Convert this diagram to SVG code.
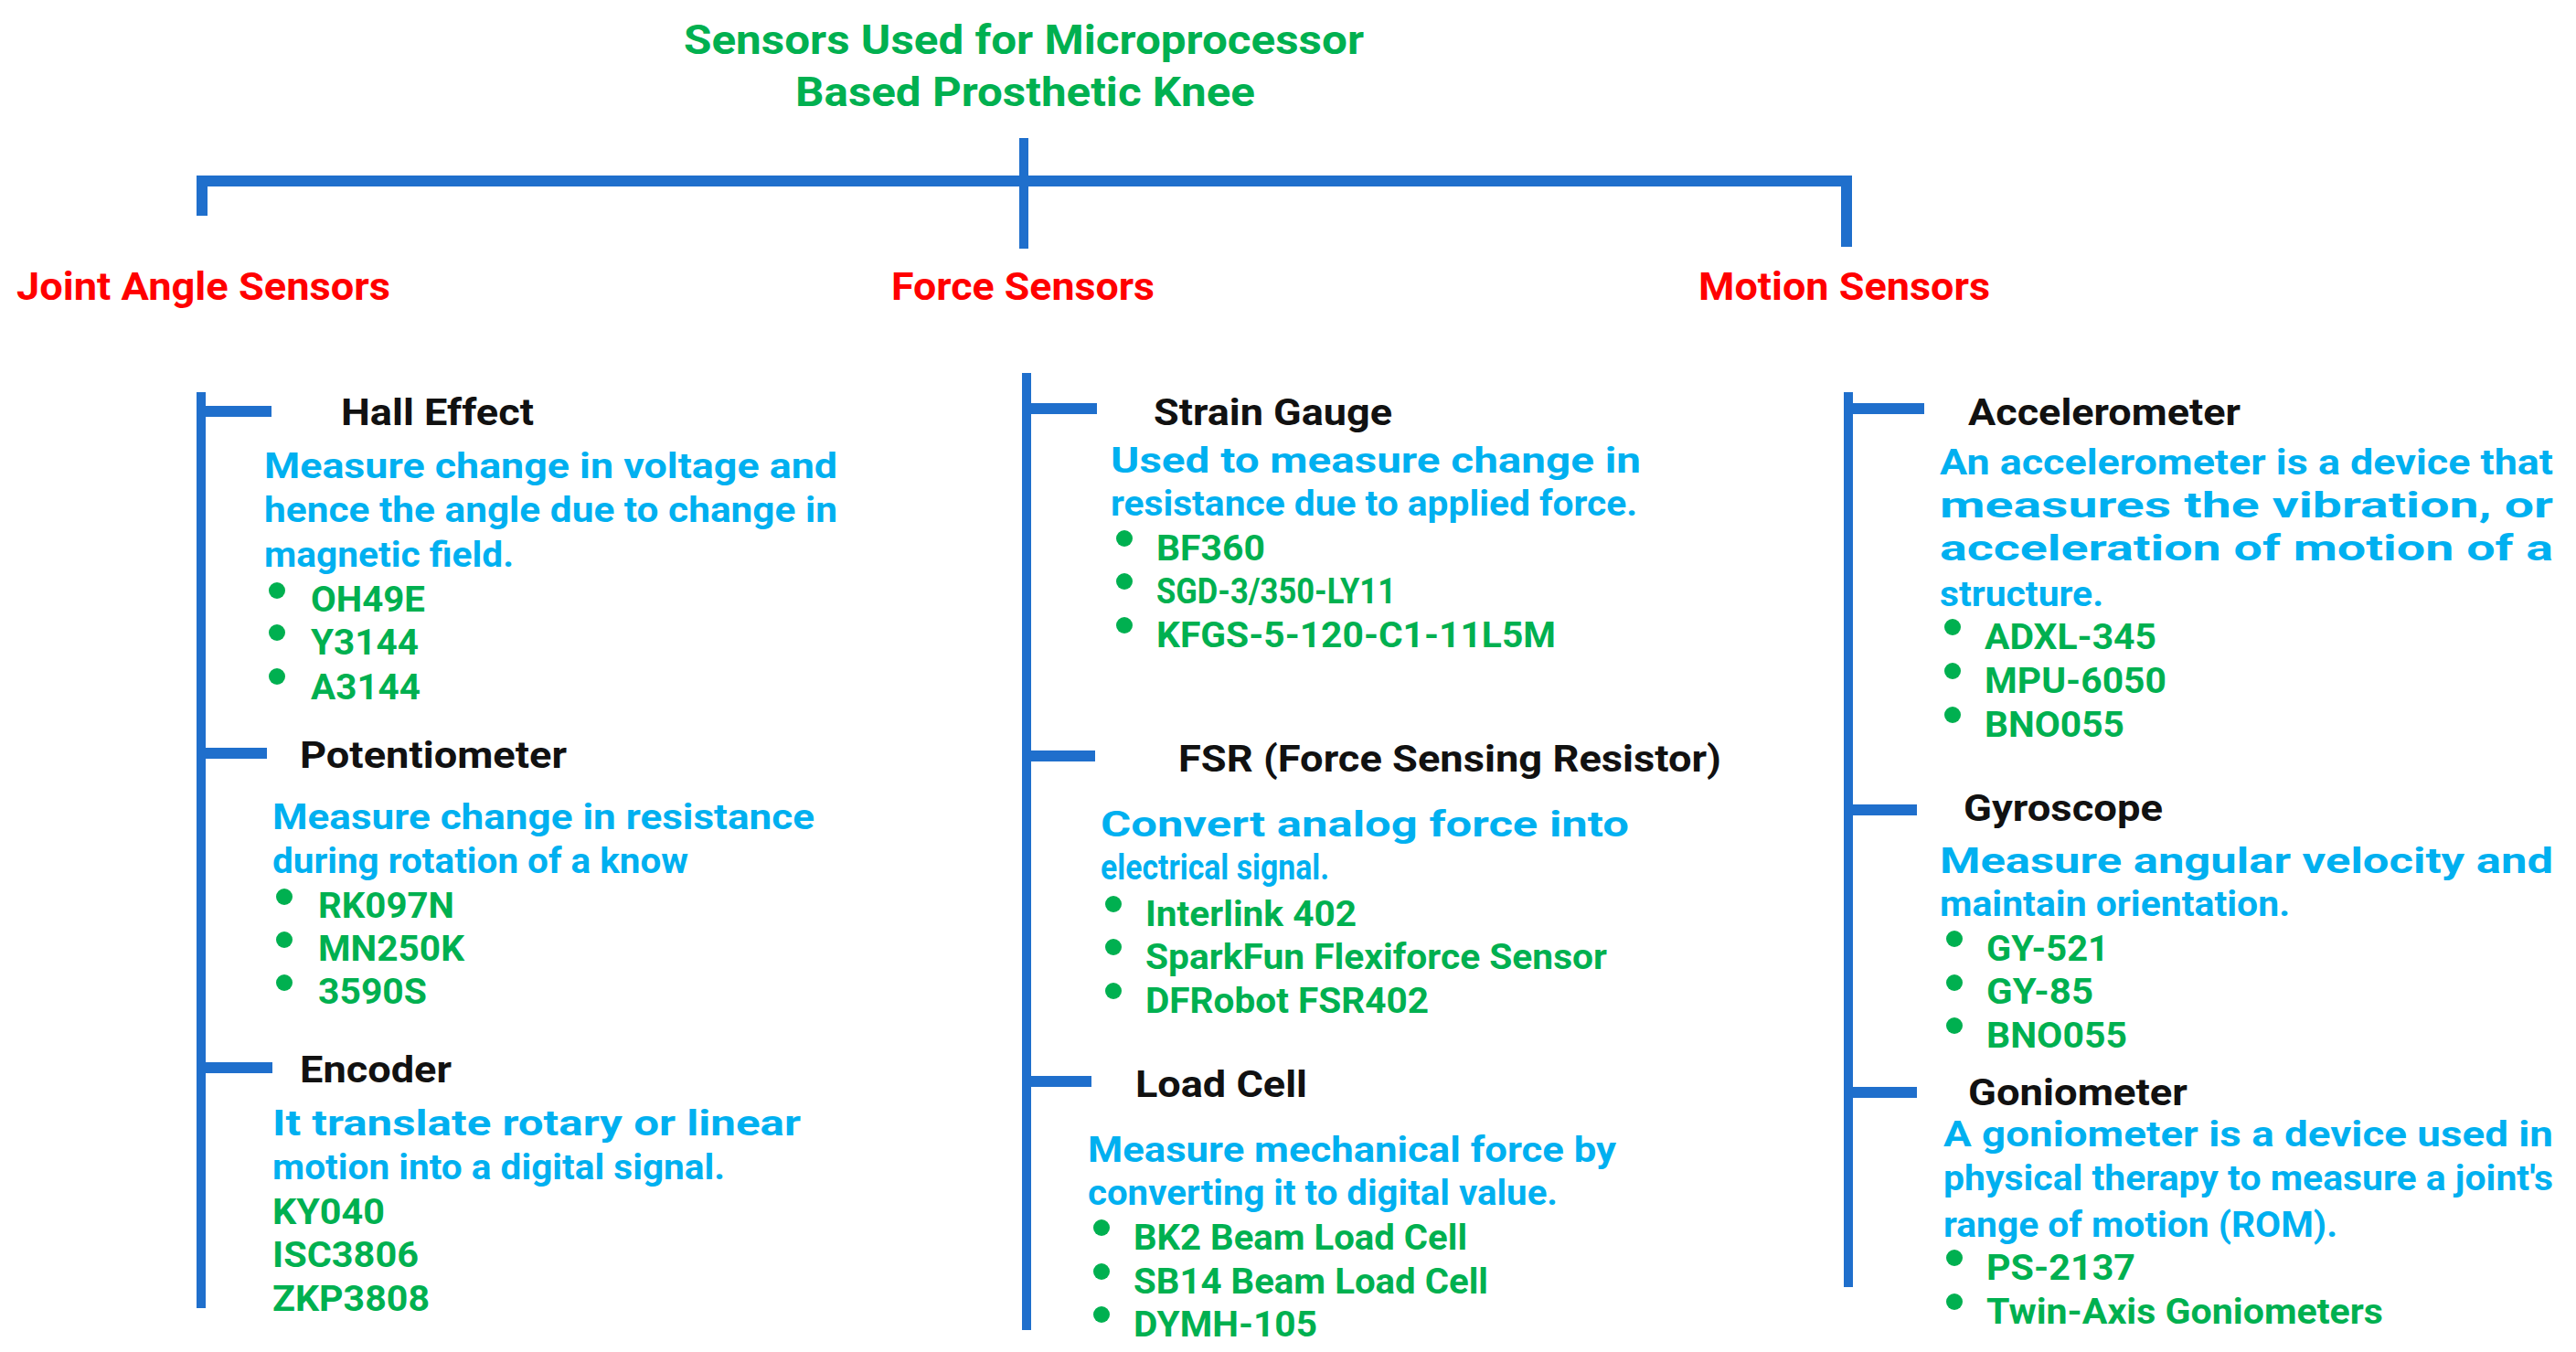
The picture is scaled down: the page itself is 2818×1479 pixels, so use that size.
<svg xmlns="http://www.w3.org/2000/svg" width="2818" height="1479" viewBox="0 0 2818 1479">
<style>
text{font-family:Roboto,"Liberation Sans",sans-serif;font-weight:bold}
.t{fill:#00b050;font-size:44px}
.c{fill:#ff0000;font-size:42px}
.h{fill:#111;font-size:40px}
.d{fill:#00b0f0;font-size:38px}
.i{fill:#00b050;font-size:38px}
.ln{stroke:#1f6fcc;fill:none}
.dot{fill:#00b050}
</style>
<rect width="2818" height="1479" fill="#fff"/>
<g id="title">
<text class="t" x="748" y="59" textLength="744" lengthAdjust="spacingAndGlyphs">Sensors Used for Microprocessor</text>
<text class="t" x="870" y="116" textLength="503" lengthAdjust="spacingAndGlyphs">Based Prosthetic Knee</text>
</g>
<g id="connectors">
<path class="ln" stroke-width="12" d="M221 236V198H2020V270"/>
<path class="ln" stroke-width="10" d="M1120 151V272"/>
<path class="ln" stroke-width="10" d="M220 429V1431M1123 408V1455M2022 429V1408"/>
<path class="ln" stroke-width="12" d="M220 450H297M220 824H292M220 1168H298M1123 447H1200M1123 827H1198M1123 1183H1194M2022 447H2105M2022 886H2097M2022 1195H2097"/>
</g>
<g id="cat-joint"><text class="c" x="18" y="328" textLength="409" lengthAdjust="spacingAndGlyphs">Joint Angle Sensors</text></g>
<g id="cat-force"><text class="c" x="975" y="328" textLength="288" lengthAdjust="spacingAndGlyphs">Force Sensors</text></g>
<g id="cat-motion"><text class="c" x="1858" y="328" textLength="319" lengthAdjust="spacingAndGlyphs">Motion Sensors</text></g>

<g id="hall">
<text class="h" x="373" y="465" textLength="211" lengthAdjust="spacingAndGlyphs">Hall Effect</text>
<text class="d" x="289" y="523" textLength="627" lengthAdjust="spacingAndGlyphs">Measure  change  in  voltage  and</text>
<text class="d" x="289" y="571" textLength="627" lengthAdjust="spacingAndGlyphs">hence the angle due to change in</text>
<text class="d" x="289" y="620" textLength="273" lengthAdjust="spacingAndGlyphs">magnetic field.</text>
<circle class="dot" cx="303" cy="646" r="9"/><circle class="dot" cx="303" cy="692" r="9"/><circle class="dot" cx="303" cy="740" r="9"/>
<text class="i" x="340" y="669" textLength="125" lengthAdjust="spacingAndGlyphs">OH49E</text>
<text class="i" x="340" y="716" textLength="118" lengthAdjust="spacingAndGlyphs">Y3144</text>
<text class="i" x="340" y="765" textLength="120" lengthAdjust="spacingAndGlyphs">A3144</text>
</g>
<g id="potentiometer">
<text class="h" x="328" y="840" textLength="292" lengthAdjust="spacingAndGlyphs">Potentiometer</text>
<text class="d" x="298" y="907" textLength="593" lengthAdjust="spacingAndGlyphs">Measure  change  in  resistance</text>
<text class="d" x="298" y="955" textLength="455" lengthAdjust="spacingAndGlyphs">during rotation of a know</text>
<circle class="dot" cx="311" cy="981" r="9"/><circle class="dot" cx="311" cy="1028" r="9"/><circle class="dot" cx="311" cy="1075" r="9"/>
<text class="i" x="348" y="1004" textLength="149" lengthAdjust="spacingAndGlyphs">RK097N</text>
<text class="i" x="348" y="1051" textLength="160" lengthAdjust="spacingAndGlyphs">MN250K</text>
<text class="i" x="348" y="1098" textLength="119" lengthAdjust="spacingAndGlyphs">3590S</text>
</g>
<g id="encoder">
<text class="h" x="328" y="1184" textLength="166" lengthAdjust="spacingAndGlyphs">Encoder</text>
<text class="d" x="298" y="1242" textLength="578" lengthAdjust="spacingAndGlyphs">It  translate  rotary  or  linear</text>
<text class="d" x="298" y="1290" textLength="495" lengthAdjust="spacingAndGlyphs">motion into a digital signal.</text>
<text class="i" x="298" y="1339" textLength="123" lengthAdjust="spacingAndGlyphs">KY040</text>
<text class="i" x="298" y="1386" textLength="160" lengthAdjust="spacingAndGlyphs">ISC3806</text>
<text class="i" x="298" y="1434" textLength="172" lengthAdjust="spacingAndGlyphs">ZKP3808</text>
</g>

<g id="strain">
<text class="h" x="1262" y="465" textLength="261" lengthAdjust="spacingAndGlyphs">Strain Gauge</text>
<text class="d" x="1215" y="517" textLength="580" lengthAdjust="spacingAndGlyphs">Used  to  measure  change  in</text>
<text class="d" x="1215" y="564" textLength="576" lengthAdjust="spacingAndGlyphs">resistance due to applied force.</text>
<circle class="dot" cx="1230" cy="589" r="9"/><circle class="dot" cx="1230" cy="636" r="9"/><circle class="dot" cx="1230" cy="684" r="9"/>
<text class="i" x="1265" y="613" textLength="119" lengthAdjust="spacingAndGlyphs">BF360</text>
<text class="i" x="1265" y="660" textLength="262" lengthAdjust="spacingAndGlyphs">SGD-3/350-LY11</text>
<text class="i" x="1265" y="708" textLength="437" lengthAdjust="spacingAndGlyphs">KFGS-5-120-C1-11L5M</text>
</g>
<g id="fsr">
<text class="h" x="1289" y="844" textLength="594" lengthAdjust="spacingAndGlyphs">FSR (Force Sensing Resistor)</text>
<text class="d" x="1204" y="915" textLength="578" lengthAdjust="spacingAndGlyphs">Convert   analog   force   into</text>
<text class="d" x="1204" y="962" textLength="250" lengthAdjust="spacingAndGlyphs">electrical signal.</text>
<circle class="dot" cx="1218" cy="989" r="9"/><circle class="dot" cx="1218" cy="1036" r="9"/><circle class="dot" cx="1218" cy="1084" r="9"/>
<text class="i" x="1253" y="1013" textLength="231" lengthAdjust="spacingAndGlyphs">Interlink 402</text>
<text class="i" x="1253" y="1060" textLength="505" lengthAdjust="spacingAndGlyphs">SparkFun Flexiforce Sensor</text>
<text class="i" x="1253" y="1108" textLength="310" lengthAdjust="spacingAndGlyphs">DFRobot FSR402</text>
</g>
<g id="loadcell">
<text class="h" x="1242" y="1200" textLength="188" lengthAdjust="spacingAndGlyphs">Load Cell</text>
<text class="d" x="1190" y="1271" textLength="578" lengthAdjust="spacingAndGlyphs">Measure  mechanical  force  by</text>
<text class="d" x="1190" y="1318" textLength="514" lengthAdjust="spacingAndGlyphs">converting it to digital value.</text>
<circle class="dot" cx="1205" cy="1343" r="9"/><circle class="dot" cx="1205" cy="1391" r="9"/><circle class="dot" cx="1205" cy="1438" r="9"/>
<text class="i" x="1240" y="1367" textLength="365" lengthAdjust="spacingAndGlyphs">BK2 Beam Load Cell</text>
<text class="i" x="1240" y="1415" textLength="388" lengthAdjust="spacingAndGlyphs">SB14 Beam Load Cell</text>
<text class="i" x="1240" y="1462" textLength="201" lengthAdjust="spacingAndGlyphs">DYMH-105</text>
</g>

<g id="accelerometer">
<text class="h" x="2153" y="465" textLength="298" lengthAdjust="spacingAndGlyphs">Accelerometer</text>
<text class="d" x="2122" y="519" textLength="671" lengthAdjust="spacingAndGlyphs">An  accelerometer  is  a  device  that</text>
<text class="d" x="2122" y="566" textLength="671" lengthAdjust="spacingAndGlyphs">measures      the      vibration,      or</text>
<text class="d" x="2122" y="613" textLength="671" lengthAdjust="spacingAndGlyphs">acceleration    of    motion    of    a</text>
<text class="d" x="2122" y="663" textLength="179" lengthAdjust="spacingAndGlyphs">structure.</text>
<circle class="dot" cx="2136" cy="686" r="9"/><circle class="dot" cx="2136" cy="734" r="9"/><circle class="dot" cx="2136" cy="782" r="9"/>
<text class="i" x="2171" y="710" textLength="188" lengthAdjust="spacingAndGlyphs">ADXL-345</text>
<text class="i" x="2171" y="758" textLength="199" lengthAdjust="spacingAndGlyphs">MPU-6050</text>
<text class="i" x="2171" y="806" textLength="153" lengthAdjust="spacingAndGlyphs">BNO055</text>
</g>
<g id="gyroscope">
<text class="h" x="2148" y="898" textLength="218" lengthAdjust="spacingAndGlyphs">Gyroscope</text>
<text class="d" x="2122" y="955" textLength="671" lengthAdjust="spacingAndGlyphs">Measure    angular    velocity    and</text>
<text class="d" x="2122" y="1002" textLength="383" lengthAdjust="spacingAndGlyphs">maintain orientation.</text>
<circle class="dot" cx="2138" cy="1027" r="9"/><circle class="dot" cx="2138" cy="1075" r="9"/><circle class="dot" cx="2138" cy="1122" r="9"/>
<text class="i" x="2173" y="1051" textLength="134" lengthAdjust="spacingAndGlyphs">GY-521</text>
<text class="i" x="2173" y="1098" textLength="117" lengthAdjust="spacingAndGlyphs">GY-85</text>
<text class="i" x="2173" y="1146" textLength="154" lengthAdjust="spacingAndGlyphs">BNO055</text>
</g>
<g id="goniometer">
<text class="h" x="2153" y="1209" textLength="240" lengthAdjust="spacingAndGlyphs">Goniometer</text>
<text class="d" x="2126" y="1254" textLength="667" lengthAdjust="spacingAndGlyphs">A  goniometer  is  a  device  used  in</text>
<text class="d" x="2126" y="1302" textLength="667" lengthAdjust="spacingAndGlyphs">physical therapy to measure a joint's</text>
<text class="d" x="2126" y="1353" textLength="431" lengthAdjust="spacingAndGlyphs">range of motion (ROM).</text>
<circle class="dot" cx="2138" cy="1376" r="9"/><circle class="dot" cx="2138" cy="1424" r="9"/>
<text class="i" x="2173" y="1400" textLength="163" lengthAdjust="spacingAndGlyphs">PS-2137</text>
<text class="i" x="2173" y="1448" textLength="434" lengthAdjust="spacingAndGlyphs">Twin-Axis Goniometers</text>
</g>
</svg>
